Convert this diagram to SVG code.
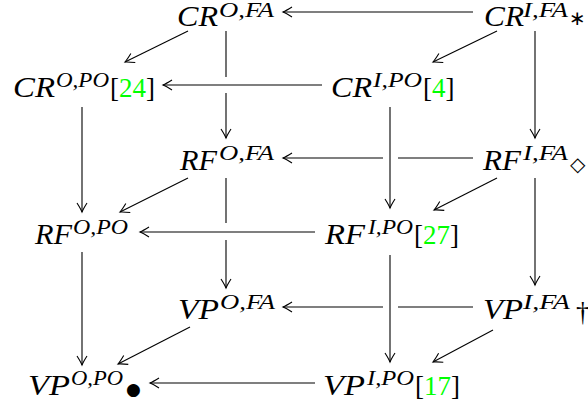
<svg xmlns="http://www.w3.org/2000/svg" width="588" height="406" viewBox="0 0 588 406">
<style>
.m{font-family:"Liberation Serif","Times New Roman",serif;font-style:italic;font-size:29px;fill:#000}
.s{font-family:"Liberation Serif","Times New Roman",serif;font-style:italic;font-size:20px;fill:#000}
.r{font-family:"Liberation Serif","Times New Roman",serif;font-size:27px;fill:#000}
.g{fill:#00ff00}
.sym{font-family:"DejaVu Sans",sans-serif;fill:#000}
.e{fill:none;stroke:#000;stroke-width:1.1}
</style>
<defs>
<marker id="ah" markerUnits="userSpaceOnUse" markerWidth="14" markerHeight="14" viewBox="-11 -7 13 14" refX="0" refY="0" orient="auto">
<path d="M-9,-5 Q-3,-1.2 0,0 Q-3,1.2 -9,5" fill="none" stroke="#000" stroke-width="1.1"/>
</marker>
</defs>
<g id="connectors">
<path class="e" d="M473,12 H283" marker-end="url(#ah)"/>
<path class="e" d="M322,85 H163" marker-end="url(#ah)"/>
<path class="e" d="M473,158 H398 M383,158 H283" marker-end="url(#ah)"/>
<path class="e" d="M315,232 H140" marker-end="url(#ah)"/>
<path class="e" d="M473,307 H398 M383,307 H283" marker-end="url(#ah)"/>
<path class="e" d="M315,383 H150" marker-end="url(#ah)"/>
<path class="e" d="M226,31 V77 M226,93 V138" marker-end="url(#ah)"/>
<path class="e" d="M535,31 V138" marker-end="url(#ah)"/>
<path class="e" d="M82,107 V212" marker-end="url(#ah)"/>
<path class="e" d="M390,107 V208" marker-end="url(#ah)"/>
<path class="e" d="M226,178 V223 M226,240 V288" marker-end="url(#ah)"/>
<path class="e" d="M535,178 V285" marker-end="url(#ah)"/>
<path class="e" d="M82,252 V365" marker-end="url(#ah)"/>
<path class="e" d="M390,255 V362" marker-end="url(#ah)"/>
<path class="e" d="M188,31 L125,62" marker-end="url(#ah)"/>
<path class="e" d="M497,31 L433,62" marker-end="url(#ah)"/>
<path class="e" d="M188,178 L120,212" marker-end="url(#ah)"/>
<path class="e" d="M497,178 L434,210" marker-end="url(#ah)"/>
<path class="e" d="M190,327 L118,364" marker-end="url(#ah)"/>
<path class="e" d="M493,330 L433,362" marker-end="url(#ah)"/>
</g>
<g id="CR_O_FA">
<text class="m" x="177" y="26" textLength="41" lengthAdjust="spacingAndGlyphs">CR</text>
<text class="s" x="219" y="17" font-size="19" textLength="55" lengthAdjust="spacingAndGlyphs">O,FA</text>
</g>
<g id="CR_I_FA">
<text class="m" x="484" y="26" textLength="40" lengthAdjust="spacingAndGlyphs">CR</text>
<text class="s" x="523" y="17" font-size="19" textLength="45" lengthAdjust="spacingAndGlyphs">I,FA</text>
<text class="sym" x="569" y="25" font-size="20">∗</text>
</g>
<g id="CR_O_PO">
<text class="m" x="13" y="97" textLength="42" lengthAdjust="spacingAndGlyphs">CR</text>
<text class="s" x="56" y="87" textLength="53" lengthAdjust="spacingAndGlyphs">O,PO</text>
<text class="r" x="110" y="97">[<tspan class="g">24</tspan>]</text>
</g>
<g id="CR_I_PO">
<text class="m" x="331" y="97" textLength="41" lengthAdjust="spacingAndGlyphs">CR</text>
<text class="s" x="373" y="87" textLength="49" lengthAdjust="spacingAndGlyphs">I,PO</text>
<text class="r" x="423" y="97">[<tspan class="g">4</tspan>]</text>
</g>
<g id="RF_O_FA">
<text class="m" x="180" y="170" textLength="37" lengthAdjust="spacingAndGlyphs">RF</text>
<text class="s" x="219" y="160" textLength="55" lengthAdjust="spacingAndGlyphs">O,FA</text>
</g>
<g id="RF_I_FA">
<text class="m" x="483" y="170" textLength="38" lengthAdjust="spacingAndGlyphs">RF</text>
<text class="s" x="523" y="160" textLength="45" lengthAdjust="spacingAndGlyphs">I,FA</text>
<text class="sym" x="570" y="171" font-size="20">◇</text>
</g>
<g id="RF_O_PO">
<text class="m" x="35" y="244" textLength="37" lengthAdjust="spacingAndGlyphs">RF</text>
<text class="s" x="73" y="234" textLength="55" lengthAdjust="spacingAndGlyphs">O,PO</text>
</g>
<g id="RF_I_PO">
<text class="m" x="325" y="244" textLength="40" lengthAdjust="spacingAndGlyphs">RF</text>
<text class="s" x="368" y="234" textLength="45" lengthAdjust="spacingAndGlyphs">I,PO</text>
<text class="r" x="414" y="244">[<tspan class="g">27</tspan>]</text>
</g>
<g id="VP_O_FA">
<text class="m" x="178" y="319" textLength="41" lengthAdjust="spacingAndGlyphs">VP</text>
<text class="s" x="220" y="309" textLength="55" lengthAdjust="spacingAndGlyphs">O,FA</text>
</g>
<g id="VP_I_FA">
<text class="m" x="483" y="319" textLength="40" lengthAdjust="spacingAndGlyphs">VP</text>
<text class="s" x="523" y="309" textLength="47" lengthAdjust="spacingAndGlyphs">I,FA</text>
<text class="r" x="576" y="321" font-size="22">†</text>
</g>
<g id="VP_O_PO">
<text class="m" x="28" y="395" textLength="42" lengthAdjust="spacingAndGlyphs">VP</text>
<text class="s" x="71" y="385" textLength="52" lengthAdjust="spacingAndGlyphs">O,PO</text>
<text class="sym" x="126" y="395" font-size="17">●</text>
</g>
<g id="VP_I_PO">
<text class="m" x="323" y="395" textLength="42" lengthAdjust="spacingAndGlyphs">VP</text>
<text class="s" x="367" y="385" textLength="47" lengthAdjust="spacingAndGlyphs">I,PO</text>
<text class="r" x="415" y="395">[<tspan class="g">17</tspan>]</text>
</g>
</svg>
